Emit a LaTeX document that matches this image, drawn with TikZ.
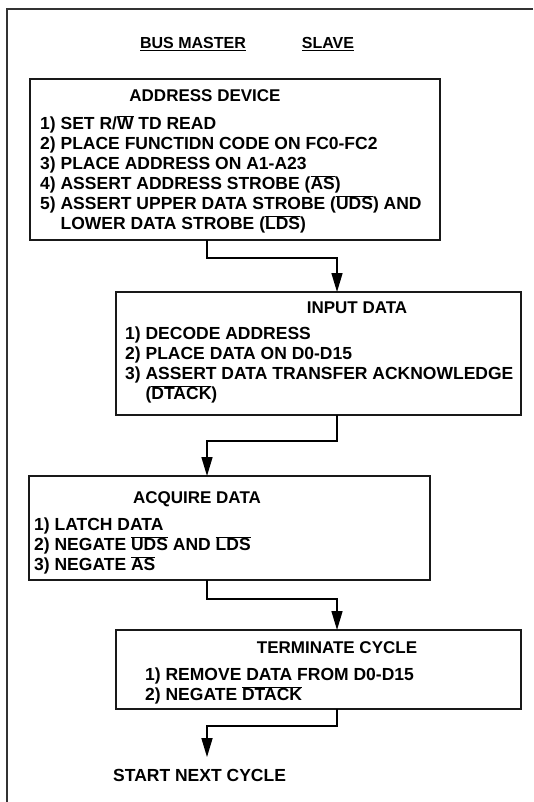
\documentclass[tikz,border=0pt]{standalone}
\usepackage{fontspec}
\setmainfont{Liberation Sans}
\usetikzlibrary{arrows.meta}

% active-low signal names
\newcommand\ovl[1]{$\overline{\mbox{#1}}$}
% fixed height for the first line of a list
\newcommand\firststrut{\rule{0pt}{16pt}}

\begin{document}
\begin{tikzpicture}
		% We work on the pixel grid of the scan, y running down
		[x=1pt, y=-1pt,
		frame/.style={draw=black!80, line width=1.2pt},
		box/.style={draw=black!90, line width=1.4pt, inner sep=0pt, outer sep=0pt, anchor=north west},
		head/.style={font=\fontsize{16}{20}\selectfont\bfseries, inner sep=0pt},
		title/.style={font=\fontsize{17}{20}\selectfont\bfseries, inner sep=0pt, anchor=base},
		items/.style={font=\fontsize{17.5}{20}\selectfont\bfseries, inner sep=0pt, align=left, anchor=north west},
		flow/.style={line width=1.5pt, -{Triangle[length=19pt, width=11pt]}}]
	
		\useasboundingbox (0,0) rectangle (533,802);
		
		% the two columns
		\coordinate (master) at (207,0);
		\coordinate (slave) at (337,0);
		
		% open frame of the page
		\draw[frame] (533,9) -- (7,9) -- (7,802);
		
		% column heads
		\node[head, anchor=base] (bm) at (193,48.75) {\underline{BUS MASTER}};
		\node[head, anchor=base] (sl) at (328,48.75) {\underline{SLAVE}};
		
		% Address device
		\node[box, minimum width=410, minimum height=161] (addr) at (30,79) {};
		\node[title] (addrtitle) at (205,101.1) {ADDRESS DEVICE};
		\node[items] (addrlist) at (40,113.3) {\firststrut 1) SET R/\ovl{W} TD READ\\
			2) PLACE FUNCTIDN CODE ON FC0-FC2\\
			3) PLACE ADDRESS ON A1-A23\\
			4) ASSERT ADDRESS STROBE (\ovl{AS})\\
			5) ASSERT UPPER DATA STROBE (\ovl{UDS}) AND\\
			\phantom{5) }LOWER DATA STROBE (\ovl{LDS})};
		
		% Input data
		\node[box, minimum width=405, minimum height=123] (input) at (116,292) {};
		\node[title] (inputtitle) at (357,313.1) {INPUT DATA};
		\node[items] (inputlist) at (125,323.3) {\firststrut 1) DECODE ADDRESS\\
			2) PLACE DATA ON D0-D15\\
			3) ASSERT DATA TRANSFER ACKNOWLEDGE\\
			\phantom{3) }(\ovl{DTACK})};
		
		% Acquire data
		\node[box, minimum width=401, minimum height=104] (acq) at (29,476) {};
		\node[title] (acqtitle) at (197,503.1) {ACQUIRE DATA};
		\node[items] (acqlist) at (34,514.3) {\firststrut 1) LATCH DATA\\
			2) NEGATE \ovl{UDS} AND \ovl{LDS}\\
			3) NEGATE \ovl{AS}};
		
		% Terminate cycle
		\node[box, minimum width=405, minimum height=79] (term) at (116,630) {};
		\node[title] (termtitle) at (337,653.1) {TERMINATE CYCLE};
		\node[items] (termlist) at (145,664.3) {\firststrut 1) REMOVE DATA FROM D0-D15\\
			2) NEGATE \ovl{DTACK}};
		
		\node[items, anchor=base west, inner ysep=11.8pt] (next) at (113,781.3) {START NEXT CYCLE};
		
		% Hand-over between master and slave
		\draw[flow] (addr.south -| master) -- ++(0,18) -| (input.north -| slave);
		\draw[flow] (input.south -| slave) -- ++(0,26) -| (acq.north -| master);
		\draw[flow] (acq.south -| master) -- ++(0,19) -| (term.north -| slave);
		\draw[flow] (term.south -| slave) -- ++(0,17) -| (next.north -| master);
	\end{tikzpicture}
\end{document}
